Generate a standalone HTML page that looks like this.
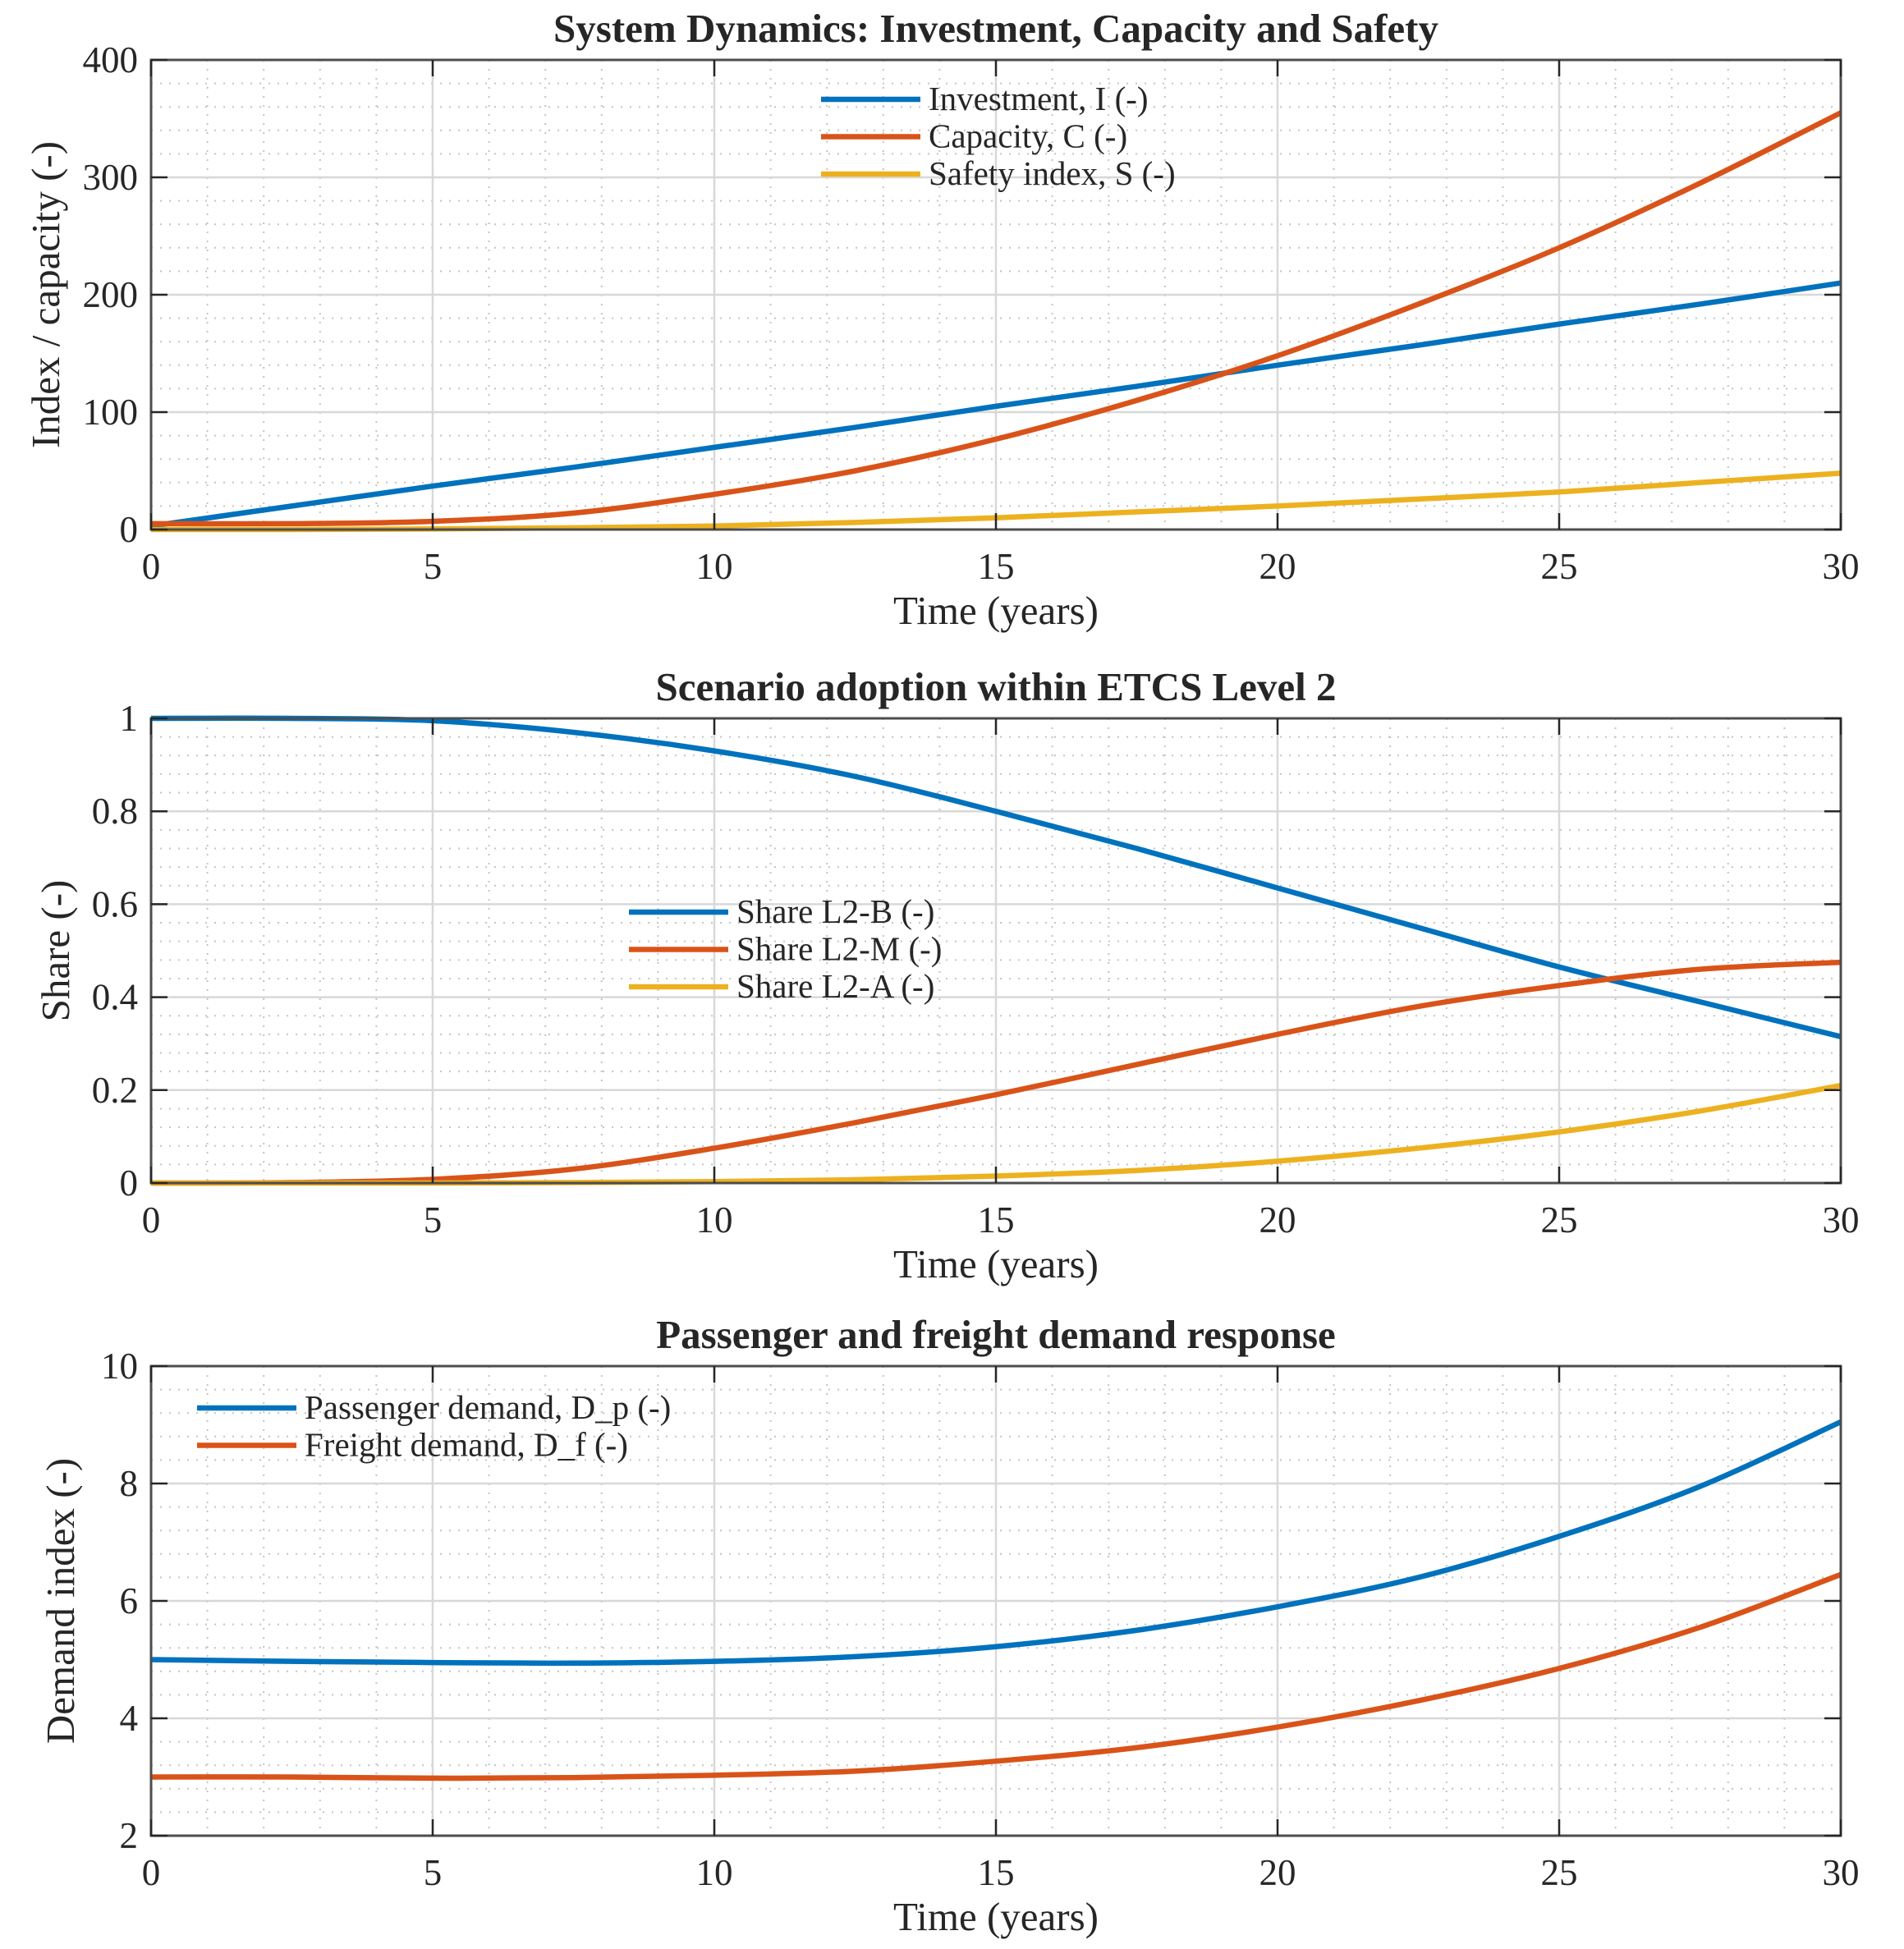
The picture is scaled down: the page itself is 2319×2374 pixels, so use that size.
<!DOCTYPE html>
<html><head><meta charset="utf-8"><style>
body{margin:0;background:#fff}
svg{display:block}
text{font-family:"Liberation Serif",serif;fill:#262626}
</style></head><body>
<svg id="fig" width="2319" height="2374" viewBox="0 0 2319 2374" xmlns="http://www.w3.org/2000/svg"></svg>
<script>
const time=[0,2.5,5,7.5,10,12.5,15,17.5,20,22.5,25,27.5,30];
const investment=[3,20,37,53,70,87,105,122,140,157,175,192,210];
const capacity=[5,5,7,14,30,50,77,110,148,192,240,295,355];
const safety=[0,0,0.5,1.5,3,6,10,15,20,26,32,40,48];
const shareB=[1,1,0.995,0.97,0.93,0.875,0.80,0.72,0.635,0.55,0.465,0.39,0.315];
const shareM=[0,0.001,0.008,0.03,0.075,0.13,0.19,0.255,0.32,0.38,0.425,0.46,0.475];
const shareA=[0,0,0,0.001,0.003,0.007,0.015,0.027,0.047,0.075,0.11,0.155,0.21];
const demandP=[5,4.97,4.95,4.94,4.97,5.05,5.22,5.5,5.9,6.4,7.1,7.95,9.05];
const demandF=[3,3,2.98,2.99,3.03,3.1,3.27,3.5,3.85,4.3,4.85,5.55,6.45];
const xTicks=[0,5,10,15,20,25,30];
const yTicks1=[0,100,200,300,400];
const yTicks2=[0,0.2,0.4,0.6,0.8,1];
const yTicks3=[2,4,6,8,10];
const yTickLabels2=["0","0.2","0.4","0.6","0.8","1"];

const NS="http://www.w3.org/2000/svg";
const svg=document.getElementById('fig');
const L=184,R=2242;
function mk(tag,attrs,parent){const e=document.createElementNS(NS,tag);for(const k in attrs)e.setAttribute(k,attrs[k]);(parent||svg).appendChild(e);return e;}
function panel(cfg){
  const g=mk('g',{});
  
  
  const T=cfg.top,B=cfg.top+cfg.h;
  const xs=v=>L+(v-0)/30*(R-L);
  const ys=v=>B-(v-cfg.ymin)/(cfg.ymax-cfg.ymin)*(B-T);
  for(let v=1;v<30;v++){ if(v%5===0)continue;
    const l=mk('line',{x1:xs(v),x2:xs(v),y1:T,y2:B,stroke:'#c4c4c4','stroke-width':2,'stroke-dasharray':'2 9'},g);
    }
  const mstep=(cfg.ymax-cfg.ymin)/cfg.minorN;
  for(let i=1;i<cfg.minorN;i++){ if(i%(cfg.minorN/(cfg.yTicks.length-1))===0)continue;
    const y=ys(cfg.ymin+i*mstep);
    const l=mk('line',{x1:L,x2:R,y1:y,y2:y,stroke:'#c4c4c4','stroke-width':2,'stroke-dasharray':'2 9'},g);
    }
  xTicks.forEach(v=>{const l=mk('line',{x1:xs(v),x2:xs(v),y1:T,y2:B,stroke:'#d8d8d8','stroke-width':2.5},g);
    });
  cfg.yTicks.forEach(v=>{const l=mk('line',{x1:L,x2:R,y1:ys(v),y2:ys(v),stroke:'#d8d8d8','stroke-width':2.5},g);
    });
  cfg.series.forEach(s=>{
    const pts=time.map((t,i)=>[xs(t),ys(s.data[i])]);
    let d=`M${pts[0][0]},${pts[0][1]}`;
    for(let i=0;i<pts.length-1;i++){
      const p0=pts[Math.max(0,i-1)],p1=pts[i],p2=pts[i+1],p3=pts[Math.min(pts.length-1,i+2)];
      const c1=[p1[0]+(p2[0]-p0[0])/6,p1[1]+(p2[1]-p0[1])/6];
      const c2=[p2[0]-(p3[0]-p1[0])/6,p2[1]-(p3[1]-p1[1])/6];
      d+=`C${c1[0]},${c1[1]} ${c2[0]},${c2[1]} ${p2[0]},${p2[1]}`;
    }
    const p=mk('path',{d:d,fill:'none',stroke:s.color,'stroke-width':6.5,'stroke-linejoin':'round'},g);
    
  });
  const bx=mk('rect',{x:L,y:T,width:R-L,height:B-T,fill:'none',stroke:'#4d4d4d','stroke-width':3},g);
  
  xTicks.forEach(v=>{
    mk('line',{x1:xs(v),x2:xs(v),y1:B,y2:B-20,stroke:'#262626','stroke-width':2.5},g);
    mk('line',{x1:xs(v),x2:xs(v),y1:T,y2:T+20,stroke:'#262626','stroke-width':2.5},g);
    const t=mk('text',{x:xs(v),y:B+60,'font-size':45,'text-anchor':'middle'},g);t.textContent=v;
    
  });
  cfg.yTicks.forEach((v,i)=>{
    mk('line',{x1:L,x2:L+20,y1:ys(v),y2:ys(v),stroke:'#262626','stroke-width':2.5},g);
    mk('line',{x1:R,x2:R-20,y1:ys(v),y2:ys(v),stroke:'#262626','stroke-width':2.5},g);
    const t=mk('text',{x:L-16,y:ys(v)+15,'font-size':45,'text-anchor':'end'},g);t.textContent=cfg.yLabels?cfg.yLabels[i]:v;
    
  });
  const tt=mk('text',{x:(L+R)/2,y:T-22,'font-size':49,'font-weight':'bold','text-anchor':'middle'},g);tt.textContent=cfg.title;
  
  const xl=mk('text',{x:(L+R)/2,y:B+115,'font-size':49,'text-anchor':'middle'},g);xl.textContent='Time (years)';
  
  const yl=mk('text',{x:0,y:0,'font-size':49,'text-anchor':'middle',transform:`translate(${cfg.ylx},${(T+B)/2}) rotate(-90)`},g);yl.textContent=cfg.ylabel;
  
  const lg=mk('g',{},g);
  cfg.series.forEach((s,i)=>{
    const y=cfg.leg[1]+i*45.5;
    mk('line',{x1:cfg.leg[0],x2:cfg.leg[0]+121,y1:y,y2:y,stroke:s.color,'stroke-width':6.5},lg);
    const t=mk('text',{x:cfg.leg[0]+131,y:y+13,'font-size':41},lg);t.textContent=s.label;
    
  });
}
const BL='#0072BD',OR='#D95319',YE='#EDB120';
panel({name:'system-dynamics-panel',top:73,h:572,ymin:0,ymax:400,yTicks:yTicks1,minorN:20,title:'System Dynamics: Investment, Capacity and Safety',ylabel:'Index / capacity (-)',ylx:72,leg:[1000,121],
  series:[{id:'investment',data:investment,color:BL,label:'Investment, I (-)'},{id:'capacity',data:capacity,color:OR,label:'Capacity, C (-)'},{id:'safety',data:safety,color:YE,label:'Safety index, S (-)'}]});
panel({name:'scenario-adoption-panel',top:875,h:566,ymin:0,ymax:1,yTicks:yTicks2,yLabels:yTickLabels2,minorN:25,title:'Scenario adoption within ETCS Level 2',ylabel:'Share (-)',ylx:84,leg:[766,1111],
  series:[{id:'share-l2b',data:shareB,color:BL,label:'Share L2-B (-)'},{id:'share-l2m',data:shareM,color:OR,label:'Share L2-M (-)'},{id:'share-l2a',data:shareA,color:YE,label:'Share L2-A (-)'}]});
panel({name:'demand-response-panel',top:1664,h:572,ymin:2,ymax:10,yTicks:yTicks3,minorN:20,title:'Passenger and freight demand response',ylabel:'Demand index (-)',ylx:90,leg:[240,1715],
  series:[{id:'passenger-demand',data:demandP,color:BL,label:'Passenger demand, D_p (-)'},{id:'freight-demand',data:demandF,color:OR,label:'Freight demand, D_f (-)'}]});
</script>
</body></html>
